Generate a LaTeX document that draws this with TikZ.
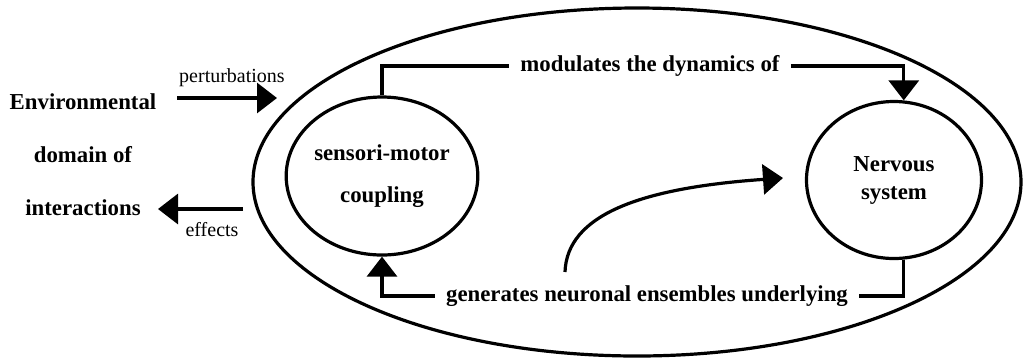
\documentclass[tikz,border=0pt]{standalone}
\usepackage{fontspec}
\setmainfont{Liberation Serif}
\usetikzlibrary{shapes.geometric}
\usetikzlibrary{arrows.meta}
\tikzset{
  ln/.style={line width=1.6pt},
  tri/.style={-{Triangle[length=10pt,width=15pt]}},
  txt/.style={font=\bfseries\fontsize{11.4}{13}\selectfont, inner xsep=5.5pt, inner ysep=2pt},
  lbl/.style={font=\fontsize{10}{12}\selectfont, inner sep=1pt},
  blob/.style={ellipse, draw, line width=1.6pt, inner sep=0pt, align=center, font=\bfseries\fontsize{11.4}{14}\selectfont}
}
\newcommand{\txtnode}[4]{\node[txt] (#1) at (#2,#3) {#4};}

\begin{document}
\begin{tikzpicture}[x=0.5pt,y=-0.5pt]
        \useasboundingbox (0,0) rectangle (1024,361);

        \node[blob, minimum width=384pt, minimum height=174pt] (world) at (637,182) {};
        \node[blob, minimum width=87.5pt, minimum height=79pt, font=\bfseries\fontsize{11.4}{21}\selectfont] (sm) at (382,176) {sensori-motor\\coupling};
        \node[blob, minimum width=87.5pt, minimum height=78.5pt] (ns) at (894,180) {Nervous\\system};

        \node[align=center, font=\bfseries\fontsize{11.4}{26.5}\selectfont] (env) at (83,155) {Environmental\\domain of\\interactions};

        \txtnode{mod}{650}{66}{modulates the dynamics of}
        \txtnode{gen}{647}{296}{generates neuronal ensembles underlying}

        \draw[ln] (sm.north) |- (mod.west);
        \draw[ln,tri] (mod.east) -| (ns.83);
        \draw[ln] (ns.-83) |- (gen.east);
        \draw[ln,tri] (gen.west) -| (sm.south);

        \coordinate (c1) at (565,272);
        \coordinate (c2) at (783,178);
        \draw[ln,tri] (c1) .. controls (567,215) and (640,188) .. (c2);

        \coordinate (p1) at (177,98);
        \coordinate (p2) at (277,98);
        \draw[ln,tri] (p1) -- (p2);
        \node[lbl] (pert) at (232,78) {perturbations};

        \coordinate (e1) at (243,209);
        \coordinate (e2) at (158,209);
        \draw[ln,tri] (e1) -- (e2);
        \node[lbl] (eff) at (212,230) {effects};
\end{tikzpicture}
\end{document}
